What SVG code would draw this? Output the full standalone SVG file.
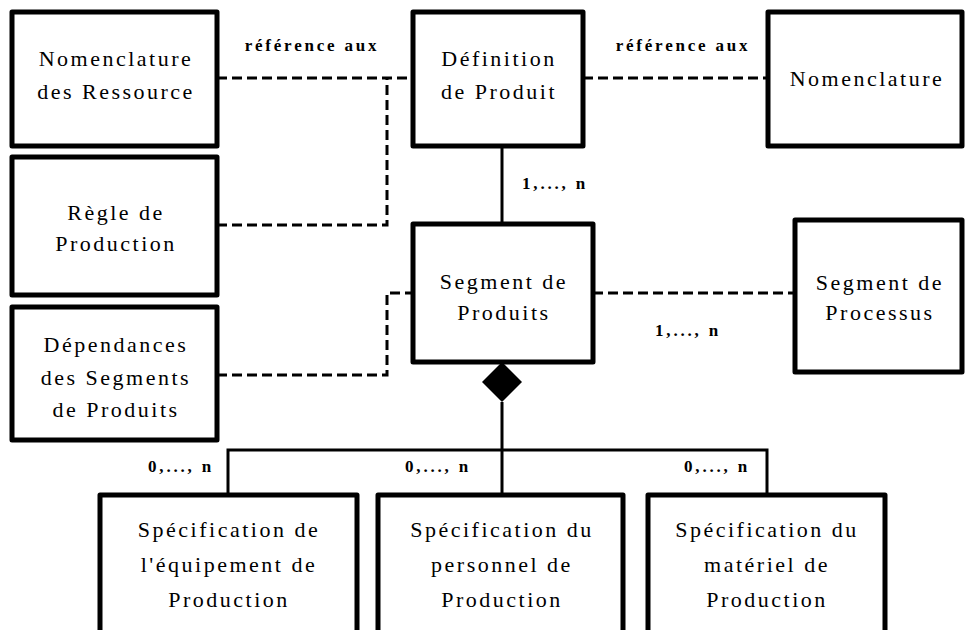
<svg xmlns="http://www.w3.org/2000/svg" width="965" height="630" viewBox="0 0 965 630">
<style>
.box{fill:#fff;stroke:#000;stroke-width:5;stroke-linejoin:round}
.t{font-family:"Liberation Serif","Times New Roman",serif;font-size:22px;letter-spacing:2.5px;text-anchor:middle;fill:#000}
.lb{font-family:"Liberation Serif","Times New Roman",serif;font-size:17px;font-weight:bold;letter-spacing:2.8px;text-anchor:middle;fill:#000}
.dash{fill:none;stroke:#000;stroke-width:3;stroke-dasharray:10 5}
.solid{fill:none;stroke:#000;stroke-width:3}
</style>
<rect width="965" height="630" fill="#fff"/>
<g id="connectors">
<path class="dash" d="M217 78 H413"/>
<path class="dash" d="M217 225 H387 V78"/>
<path class="dash" d="M217 375 H387 V293 H413"/>
<path class="dash" d="M583 78 H768"/>
<path class="dash" d="M593 293 H795"/>
<path class="solid" d="M502 146 V224"/>
<path class="solid" d="M502 402 V450 M228 495 V450 H767 V495 M502 450 V495"/>
<polygon points="502,362 522,382 502,402 482,382" fill="#000"/>
<text class="lb" x="312" y="51">référence aux</text>
<text class="lb" x="683" y="51">référence aux</text>
<text class="lb" x="555" y="189">1,..., n</text>
<text class="lb" x="688" y="336">1,..., n</text>
<text class="lb" x="181" y="472">0,..., n</text>
<text class="lb" x="438" y="472">0,..., n</text>
<text class="lb" x="717" y="472">0,..., n</text>
</g>
<g id="n1"><rect class="box" x="12" y="12" width="205" height="134"/>
<text class="t" x="116" y="66">Nomenclature</text><text class="t" x="116" y="99">des Ressource</text></g>
<g id="n2"><rect class="box" x="413" y="12" width="170" height="134"/>
<text class="t" x="499" y="66">Définition</text><text class="t" x="499" y="99">de Produit</text></g>
<g id="n3"><rect class="box" x="768" y="12" width="194" height="134"/>
<text class="t" x="867" y="86">Nomenclature</text></g>
<g id="n4"><rect class="box" x="12" y="157" width="205" height="138"/>
<text class="t" x="116" y="220">Règle de</text><text class="t" x="116" y="251">Production</text></g>
<g id="n5"><rect class="box" x="12" y="307" width="205" height="133"/>
<text class="t" x="116" y="352">Dépendances</text><text class="t" x="116" y="385">des Segments</text><text class="t" x="116" y="417">de Produits</text></g>
<g id="n6"><rect class="box" x="413" y="224" width="180" height="138"/>
<text class="t" x="504" y="289">Segment de</text><text class="t" x="504" y="320">Produits</text></g>
<g id="n7"><rect class="box" x="795" y="220" width="167" height="152"/>
<text class="t" x="880" y="290">Segment de</text><text class="t" x="880" y="320">Processus</text></g>
<g id="n8"><rect class="box" x="100" y="495" width="257" height="150"/>
<text class="t" x="229" y="537">Spécification de</text><text class="t" x="229" y="572">l'équipement de</text><text class="t" x="229" y="607">Production</text></g>
<g id="n9"><rect class="box" x="378" y="495" width="245" height="150"/>
<text class="t" x="502" y="537">Spécification du</text><text class="t" x="502" y="572">personnel de</text><text class="t" x="502" y="607">Production</text></g>
<g id="n10"><rect class="box" x="648" y="495" width="237" height="150"/>
<text class="t" x="767" y="537">Spécification du</text><text class="t" x="767" y="572">matériel de</text><text class="t" x="767" y="607">Production</text></g>
</svg>
